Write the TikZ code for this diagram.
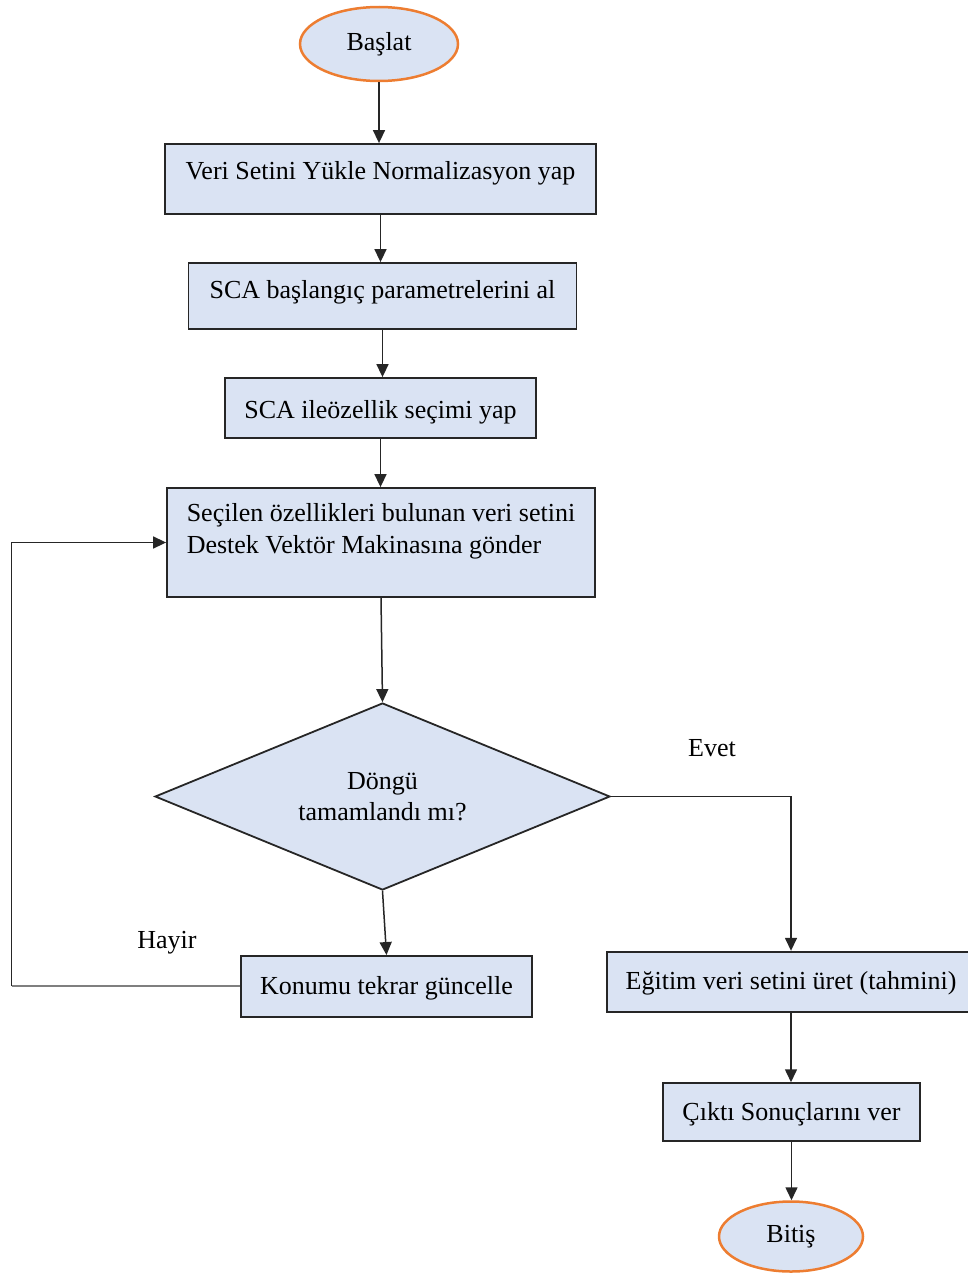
\documentclass[tikz,border=0pt]{standalone}
\usepackage{fontspec}
\setmainfont{Liberation Serif}
\usetikzlibrary{shapes.geometric,arrows.meta}
\definecolor{boxfill}{HTML}{DAE3F3}
\definecolor{termline}{HTML}{ED7D31}
\definecolor{linegray}{HTML}{262626}
\definecolor{loopgray}{HTML}{7F7F7F}

\begin{document}
\begin{tikzpicture}[x=1pt,y=-1pt,
  every node/.style={font=\fontsize{26}{31.7}\selectfont, inner sep=0pt},
  terminal/.style={ellipse, draw=termline, line width=2.5pt, fill=boxfill},
  boxbase/.style={rectangle, draw=linegray, line width=1.8pt, fill=boxfill},
  procbox/.style={boxbase, text height=18pt, text depth=#1},
  procbox/.default=3pt,
  decision/.style={diamond, shape aspect=2.43, draw=linegray, line width=1.8pt,
    fill=boxfill, align=center, minimum width=455pt, minimum height=187pt},
  arr/.style={draw=linegray, line width=1.5pt, -{Triangle[length=13pt,width=12pt]}},
  loopline/.style={draw=loopgray, line width=2pt},
  branch/.style={anchor=base}
]
\useasboundingbox (0,0) rectangle (968,1274);
\clip (0,0) rectangle (968,1274);

% main column
\node[terminal, minimum width=158pt, minimum height=74pt] (start) at (379,44) {Başlat};
\node[procbox=17pt, minimum width=431pt, minimum height=70pt] (b1) at (380.5,179) {Veri Setini Yükle Normalizasyon yap};
\node[procbox=13.4pt, minimum width=388pt, minimum height=66pt] (b2) at (382.5,296) {SCA başlangıç parametrelerini al};
\node[boxbase, text height=21pt, text depth=0pt, minimum width=311pt, minimum height=60pt] (b3) at (380.5,408) {SCA ileözellik seçimi yap};
\node[boxbase, align=left, text depth=27.6pt, minimum width=428pt, minimum height=109pt] (b4) at (381,542.5)
  {Seçilen özellikleri bulunan veri setini\\Destek Vektör Makinasına gönder};
\node[decision, text depth=0pt] (dia) at (382.5,796.5) {Döngü\\tamamlandı mı?};
\node[procbox=2.6pt, minimum width=291pt, minimum height=60.7pt] (kon) at (386.5,986.3) {Konumu tekrar güncelle};

% right branch
\node[procbox=2.8pt, minimum width=368pt, minimum height=60pt] (egt) at (791,981.7) {Eğitim veri setini üret (tahmini)};
\node[procbox=2pt, minimum width=257.4pt, minimum height=57.7pt] (cik) at (791.5,1112) {Çıktı Sonuçlarını ver};
\node[terminal, minimum width=144pt, minimum height=70pt] (end) at (791,1236.5) {Bitiş};

% branch labels
\node[branch] (evet) at (712,756.7) {Evet};
\node[branch] (hayir) at (167,948) {Hayir};

% connectors
\draw[arr] (start.south) -- (start.south |- b1.north);
\draw[arr] (b1.south) -- (b1.south |- b2.north);
\draw[arr] (b2.south) -- (b2.south |- b3.north);
\draw[arr] (b3.south) -- (b3.south |- b4.north);
\draw[arr] (b4.south) -- (dia.north);
\draw[arr] (dia.south) -- (kon.north);
\draw[arr] (dia.east) -| (egt.north);
\draw[arr] (egt.south) -- (egt.south |- cik.north);
\draw[arr] (cik.south) -- (cik.south |- end.north);

% loop back to the classifier step
\coordinate (fb) at (11.7,986.3);
\draw[loopline] (kon.west) -- (fb);
\draw[arr] (fb) |- (b4.west);
\end{tikzpicture}
\end{document}
